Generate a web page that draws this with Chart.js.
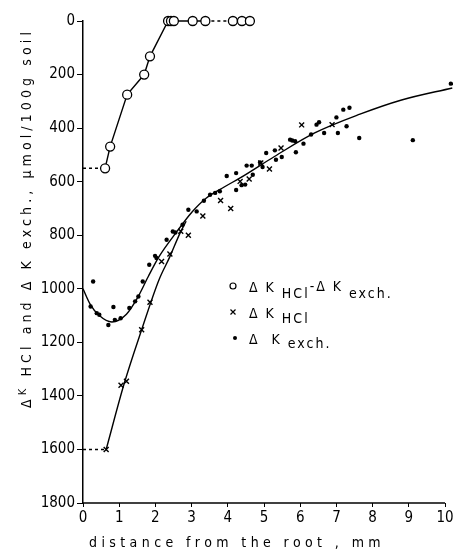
<!DOCTYPE html>
<html>
<head>
<meta charset="utf-8">
<script src="https://cdn.jsdelivr.net/npm/chart.js@4.4.1/dist/chart.umd.min.js"></script>
<style>
  html, body { margin: 0; padding: 0; background: #fff; }
  #caixa { width: 453px; height: 549px; }
</style>
</head>
<body>
<div id="caixa"><canvas id="grafico" width="453" height="549"></canvas></div>
<script>
// Dados (distância da raiz em mm, µmol/100 g de solo)

// ΔK HCl − ΔK exch. (círculos abertos)
const difX = [0.61, 0.75, 1.22, 1.69, 1.85, 2.35, 2.43, 2.51, 3.03, 3.38, 4.14, 4.39, 4.61];
const difY = [550, 469, 275, 200, 132, 0, 0, 0, 0, 0, 0, 0, 0];

// ΔK HCl (cruzes)
const hclX = [0.64, 1.05, 1.20, 1.62, 1.85, 2.17, 2.40, 2.70, 2.91, 3.31, 3.80, 4.08, 4.34, 4.59, 4.91, 5.15, 5.47, 6.04, 6.88];
const hclY = [1600, 1360, 1345, 1153, 1050, 898, 870, 785, 800, 728, 670, 700, 599, 590, 530, 553, 474, 388, 387];

// ΔK exch. (pontos cheios)
const exchX = [0.21, 0.28, 0.38, 0.45, 0.70, 0.84, 0.88, 1.04, 1.28, 1.44, 1.53, 1.65, 1.83, 1.99, 2.03, 2.31, 2.48, 2.55, 2.75, 2.91,
  3.14, 3.34, 3.51, 3.65, 3.78, 3.97, 4.23, 4.23, 4.38, 4.48, 4.52, 4.66, 4.69, 4.89, 4.96, 5.06, 5.30, 5.33, 5.49, 5.72,
  5.78, 5.86, 5.88, 6.09, 6.30, 6.45, 6.52, 6.66, 7.00, 7.04, 7.19, 7.28, 7.36, 7.63, 9.11, 10.16];
const exchY = [1066, 973, 1091, 1097, 1135, 1068, 1116, 1110, 1072, 1047, 1029, 973, 910, 877, 885, 817, 786, 790, 761, 705,
  711, 671, 649, 642, 636, 579, 568, 631, 613, 611, 540, 540, 574, 528, 545, 493, 483, 518, 508, 443,
  446, 449, 490, 458, 424, 387, 378, 418, 360, 418, 331, 393, 324, 437, 445, 234];

// Curvas ajustadas (pontos de apoio)
const curvaExchX = [0, 0.2, 0.45, 0.8, 1.2, 1.5, 1.8, 2.1, 2.6, 3.0, 3.4, 3.9, 4.34, 5.3, 6.4, 7.65, 8.8, 10.2];
const curvaExchY = [1000, 1058, 1100, 1124, 1095, 1035, 955, 880, 785, 715, 662, 620, 586, 505, 418, 348, 295, 250];
const curvaHclX = [0.64, 1.14, 1.62, 2.1, 2.4, 2.68, 2.85];
const curvaHclY = [1600, 1353, 1153, 966, 880, 792, 748];
const curvaDifX = [0.61, 0.75, 1.22, 1.69, 1.85, 2.35, 3.38];
const curvaDifY = [550, 469, 275, 200, 132, 0, 0];
const fimDifX = [4.14, 4.61];
const fimDifY = [0, 0];

// Trechos tracejados
const tracoDifX = [0, 0.61];
const tracoDifY = [550, 550];
const tracoTopoX = [3.38, 4.14];
const tracoTopoY = [0, 0];
const tracoHclX = [0, 0.64];
const tracoHclY = [1600, 1600];

// Marcas dos eixos
const marcasX = [0, 1, 2, 3, 4, 5, 6, 7, 8, 9, 10];
const marcasY = [0, 200, 400, 600, 800, 1000, 1200, 1400, 1600, 1800];

const FONTE = '"DejaVu Sans Condensed", "DejaVu Sans", sans-serif';

const pares = (xs, ys) => xs.map((x, i) => ({ x: x, y: ys[i] }));

const linha = (xs, ys, tracejado, reta) => ({
  type: 'line',
  data: pares(xs, ys),
  borderColor: '#000',
  borderWidth: 1.4,
  borderDash: tracejado ? [3, 3] : [],
  pointRadius: 0,
  fill: false,
  tension: 0,
  cubicInterpolationMode: reta ? 'default' : 'monotone',
  clip: false,
});

// Desenha uma sequência de trechos de texto (com subscritos)
function escreveTrechos(ctx, x, y, trechos, espaco) {
  ctx.letterSpacing = espaco + 'px';
  trechos.forEach((t) => {
    ctx.font = t.fonte;
    ctx.fillText(t.texto, x, y + (t.dy || 0));
    x += ctx.measureText(t.texto).width;
  });
}

const titulosPlugin = {
  id: 'titulos',
  afterDraw(chart) {
    const ctx = chart.ctx;
    const eixoX = chart.scales.x;
    ctx.save();
    ctx.fillStyle = '#000';
    ctx.strokeStyle = '#000';

    // Linha do eixo x só até o 10
    ctx.lineWidth = 1.5;
    ctx.beginPath();
    ctx.moveTo(eixoX.getPixelForValue(0), chart.chartArea.bottom);
    ctx.lineTo(eixoX.getPixelForValue(10), chart.chartArea.bottom);
    ctx.stroke();

    ctx.textBaseline = 'alphabetic';
    ctx.textAlign = 'left';

    // Título do eixo x, espaçado
    const tituloX = 'distance from the root , mm';
    ctx.font = '14px ' + FONTE;
    const larguraX = ctx.measureText(tituloX).width;
    ctx.letterSpacing = (296 - larguraX) / tituloX.length + 'px';
    ctx.fillText(tituloX, 89, 547);

    // Título do eixo y, girado
    ctx.translate(31, 408);
    ctx.rotate(-Math.PI / 2);
    const normal = '14px ' + FONTE;
    const pequeno = '11px ' + FONTE;
    const trechosY = [
      { texto: 'Δ', fonte: normal },
      { texto: 'K', fonte: pequeno, dy: -5 },
      { texto: ' HCl and Δ K exch., μmol/100g soil', fonte: normal },
    ];
    ctx.letterSpacing = '0px';
    let natural = 0;
    trechosY.forEach((t) => { ctx.font = t.fonte; natural += ctx.measureText(t.texto).width; });
    const nLetras = trechosY.reduce((s, t) => s + t.texto.length, 0);
    escreveTrechos(ctx, 0, 0, trechosY, (380 - natural) / nLetras);
    ctx.restore();

    // Legenda desenhada à mão (tem subscritos)
    ctx.save();
    ctx.fillStyle = '#000';
    ctx.strokeStyle = '#000';
    ctx.lineWidth = 1.2;
    ctx.beginPath();
    ctx.arc(233, 286, 3, 0, Math.PI * 2);
    ctx.stroke();
    ctx.beginPath();
    ctx.moveTo(230.5, 309.5); ctx.lineTo(235.5, 314.5);
    ctx.moveTo(235.5, 309.5); ctx.lineTo(230.5, 314.5);
    ctx.stroke();
    ctx.beginPath();
    ctx.arc(235, 338, 2, 0, Math.PI * 2);
    ctx.fill();

    const fl = '14px ' + FONTE;
    escreveTrechos(ctx, 249, 292, [
      { texto: 'Δ K', fonte: fl },
      { texto: ' HCl', fonte: fl, dy: 6 },
      { texto: '-Δ K', fonte: fl, dy: -1 },
      { texto: ' exch.', fonte: fl, dy: 6 },
    ], 2);
    escreveTrechos(ctx, 249, 318, [
      { texto: 'Δ K', fonte: fl },
      { texto: ' HCl', fonte: fl, dy: 5 },
    ], 2);
    escreveTrechos(ctx, 249, 344, [
      { texto: 'Δ  K', fonte: fl },
      { texto: ' exch.', fonte: fl, dy: 4 },
    ], 2);
    ctx.restore();
  },
};

const ctx = document.getElementById('grafico').getContext('2d');
new Chart(ctx, {
  type: 'scatter',
  data: {
    datasets: [
      {
        label: 'ΔK HCl − ΔK exch.',
        data: pares(difX, difY),
        pointStyle: 'circle',
        pointRadius: 4.5,
        pointBackgroundColor: '#fff',
        pointBorderColor: '#000',
        pointBorderWidth: 1.3,
        clip: false,
      },
      {
        label: 'ΔK HCl',
        data: pares(hclX, hclY),
        pointStyle: 'crossRot',
        pointRadius: 3.5,
        pointBorderColor: '#000',
        pointBorderWidth: 1.4,
        clip: false,
      },
      {
        label: 'ΔK exch.',
        data: pares(exchX, exchY),
        pointStyle: 'circle',
        pointRadius: 2.2,
        pointBackgroundColor: '#000',
        pointBorderColor: '#000',
        pointBorderWidth: 0,
        clip: false,
      },
      linha(curvaExchX, curvaExchY),
      linha(curvaHclX, curvaHclY),
      linha(curvaDifX, curvaDifY, false, true),
      linha(fimDifX, fimDifY),
      linha(tracoDifX, tracoDifY, true),
      linha(tracoTopoX, tracoTopoY, true),
      linha(tracoHclX, tracoHclY, true),
    ],
  },
  options: {
    responsive: false,
    animation: false,
    layout: { autoPadding: false, padding: { top: 21, right: 0, left: 0, bottom: 0 } },
    plugins: { legend: { display: false }, tooltip: { enabled: false } },
    scales: {
      x: {
        type: 'linear',
        min: 0,
        max: 10.22,
        afterBuildTicks: (eixo) => { eixo.ticks = marcasX.map((v) => ({ value: v })); },
        afterFit: (eixo) => { eixo.height = 46; eixo.paddingLeft = 0; eixo.paddingRight = 0; },
        ticks: { color: '#000', font: { family: FONTE, size: 15 }, padding: 2, maxRotation: 0, callback: (v) => String(v) },
        grid: { drawOnChartArea: false, drawTicks: true, tickLength: 4, color: '#000', lineWidth: 1 },
        border: { display: false },
      },
      y: {
        type: 'linear',
        min: 0,
        max: 1800,
        reverse: true,
        afterBuildTicks: (eixo) => { eixo.ticks = marcasY.map((v) => ({ value: v })); },
        afterFit: (eixo) => { eixo.width = 83; eixo.paddingTop = 0; eixo.paddingBottom = 0; },
        ticks: { color: '#000', font: { family: FONTE, size: 15 }, padding: 2, callback: (v) => String(v) },
        grid: { drawOnChartArea: false, drawTicks: true, tickLength: 6, color: '#000', lineWidth: 1 },
        border: { color: '#000', width: 1.5 },
      },
    },
  },
  plugins: [titulosPlugin],
});
</script>
</body>
</html>
